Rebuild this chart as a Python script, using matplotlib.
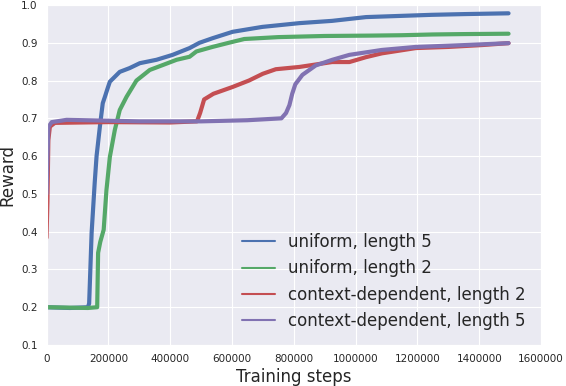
import matplotlib
matplotlib.use("Agg")
import matplotlib.pyplot as plt
import seaborn as sns

# values (training steps, reward)
uni5_steps = [0, 75800, 134000, 138000, 146000, 156000, 162000, 173000, 182000,
              189000, 198000, 205000, 237000, 269000, 302000, 356000, 408000,
              463000, 495000, 537000, 602000, 698000, 818000, 924000, 1034000,
              1140000, 1247000, 1356000, 1495000]
uni5_reward = [0.200, 0.198, 0.200, 0.210, 0.397, 0.530, 0.600, 0.680, 0.740,
               0.757, 0.780, 0.797, 0.823, 0.833, 0.846, 0.855, 0.868,
               0.886, 0.900, 0.912, 0.929, 0.942, 0.952, 0.958, 0.968,
               0.971, 0.974, 0.976, 0.978]

uni2_steps = [0, 134000, 164000, 167000, 174000, 185000, 194000, 205000, 221000,
              237000, 259000, 291000, 334000, 376000, 421000, 463000, 485000,
              537000, 590000, 640000, 750000, 900000, 1050000, 1150000, 1250000,
              1350000, 1495000]
uni2_reward = [0.200, 0.198, 0.200, 0.344, 0.373, 0.405, 0.510, 0.598, 0.669,
               0.722, 0.757, 0.800, 0.828, 0.841, 0.855, 0.863, 0.877,
               0.889, 0.900, 0.910, 0.915, 0.918, 0.919, 0.920, 0.922,
               0.923, 0.924]

ctx2_steps = [0, 3000, 6000, 11000, 27000, 200000, 400000, 487000, 497000,
              510000, 540000, 602000, 655000, 700000, 742000, 818000, 924000,
              980000, 1034000, 1085000, 1195000, 1300000, 1410000, 1495000]
ctx2_reward = [0.384, 0.480, 0.643, 0.678, 0.688, 0.690, 0.689, 0.692, 0.714,
               0.750, 0.765, 0.783, 0.800, 0.818, 0.830, 0.836, 0.849,
               0.849, 0.862, 0.872, 0.886, 0.889, 0.894, 0.899]

ctx5_steps = [0, 3000, 6000, 17000, 65000, 300000, 500000, 650000, 760000,
              775000, 786000, 795000, 805000, 828000, 871000, 925000, 980000,
              1085000, 1195000, 1356000, 1495000]
ctx5_reward = [0.500, 0.590, 0.677, 0.690, 0.696, 0.692, 0.692, 0.695, 0.700,
               0.714, 0.735, 0.765, 0.790, 0.815, 0.840, 0.855, 0.868,
               0.881, 0.889, 0.894, 0.899]

labels = ["uniform, length 5", "uniform, length 2",
          "context-dependent, length 2", "context-dependent, length 5"]
colors = ["#4C72B0", "#55A868", "#C44E52", "#8172B2"]

sns.set_style("darkgrid")
plt.rcParams['font.family'] = ['DejaVu Sans']

fig = plt.figure(figsize=(5.66, 3.86), dpi=100)
ax = fig.add_axes([46.5 / 566, 41 / 386, 494.5 / 566, 340 / 386])

series = [(uni5_steps, uni5_reward), (uni2_steps, uni2_reward),
          (ctx2_steps, ctx2_reward), (ctx5_steps, ctx5_reward)]
for (xs, ys), lab, col in zip(series, labels, colors):
    ax.plot(xs, ys, color=col, lw=3, label=lab, solid_joinstyle='round')

ax.set_xlim(0, 1600000)
ax.set_ylim(0.1, 1.0)
ax.set_xticks(range(0, 1600001, 200000))
ax.set_yticks([0.1, 0.2, 0.3, 0.4, 0.5, 0.6, 0.7, 0.8, 0.9, 1.0])
ax.ticklabel_format(axis='x', style='plain', useOffset=False)
ax.tick_params(labelsize=7.5, pad=3)
ax.set_xlabel("Training steps", fontsize=12, labelpad=3)
ax.set_ylabel("Reward", fontsize=12, labelpad=3)

leg = ax.legend(loc="lower right", fontsize=12, frameon=False)
for line in leg.get_lines():
    line.set_linewidth(1.5)

fig.savefig("out.png", dpi=100)
